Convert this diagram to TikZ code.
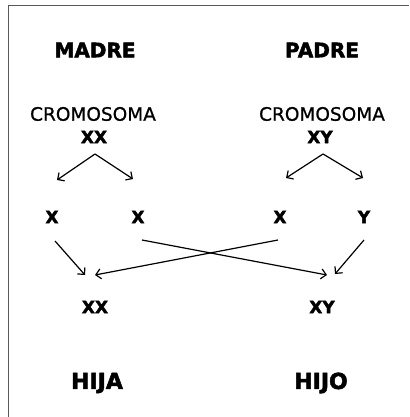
\documentclass[tikz,border=0pt]{standalone}
\usepackage{fontspec}
\setmainfont{DejaVu Sans}
\newfontfamily\gruesa{DejaVu Sans Bold}[FakeBold=2.2]
\newfontfamily\media{DejaVu Sans}[FakeBold=0.8]
\usetikzlibrary{arrows.meta}
\tikzset{
  titulo/.style={inner sep=0pt, font=\gruesa\fontsize{20}{24}\selectfont},
  hijos/.style={inner sep=0pt, font=\gruesa\fontsize{22}{26}\selectfont},
  cromo/.style={inner sep=0pt, font=\media\fontsize{18.5}{22}\selectfont},
  gen/.style={inner sep=0pt, font=\gruesa\fontsize{17}{20}\selectfont},
  flecha/.style={line width=1.2pt, -{Straight Barb[length=5pt,width=10pt]}}
}
\begin{document}
\begin{tikzpicture}[x=1pt, y=-1pt]
    \useasboundingbox (0,0) rectangle (409,417);
    \draw[black!65, line width=0.9pt] (8,417) -- (8,5) -- (409,5);

    \node[titulo] (madre) at (95,50) {MADRE};
    \node[titulo] (padre) at (322,50) {PADRE};
    \node[cromo] (cm) at (93,114) {CROMOSOMA};
    \node[cromo] (cp) at (322,114) {CROMOSOMA};
    \node[gen] (xxm) at (94,137) {XX};
    \node[gen] (xyp) at (320,137) {XY};

    \node[gen] (mx1) at (52,217) {X}; \node[gen] (mx2) at (138,217) {X};
    \node[gen] (px) at (280,217) {X}; \node[gen] (py) at (364,217) {Y};

    \node[gen] (hxx) at (95,307) {XX};
    \node[gen] (hxy) at (322,307) {XY};
    \node[hijos] (hija) at (97,383) {HIJA};
    \node[hijos] (hijo) at (321,383) {HIJO};

    % padres a gametos
    \draw[flecha] ([shift={(1,17)}]xxm.center) -- ([shift={(5,-37)}]mx1.center);
    \draw[flecha] ([shift={(1,17)}]xxm.center) -- ([shift={(-5,-38)}]mx2.center);
    \draw[flecha] ([shift={(3,17)}]xyp.center) -- ([shift={(6,-39)}]px.center);
    \draw[flecha] ([shift={(3,17)}]xyp.center) -- ([shift={(-1,-39)}]py.center);

    % gametos a hijos
    \draw[flecha] ([shift={(3,24)}]mx1.center) -- ([shift={(-10,-32)}]hxx.center);
    \draw[flecha] ([shift={(-2,23)}]px.center) -- ([shift={(0,-32)}]hxx.center);
    \draw[flecha] ([shift={(4,23)}]mx2.center) -- ([shift={(5,-32)}]hxy.center);
    \draw[flecha] ([shift={(0,23)}]py.center) -- ([shift={(13,-33)}]hxy.center);
\end{tikzpicture}
\end{document}
